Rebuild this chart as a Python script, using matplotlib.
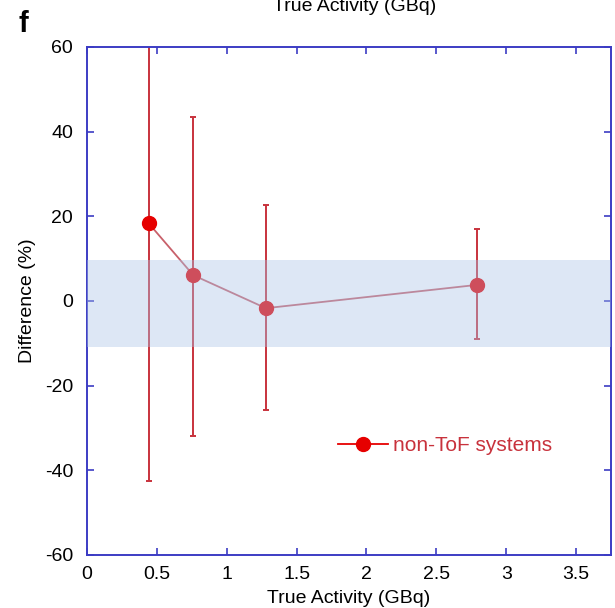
import matplotlib
matplotlib.use("Agg")
from matplotlib import pyplot as plt

# data
activity = [0.44, 0.76, 1.28, 2.79]
difference = [18.4, 6.1, -1.7, 3.8]
err_top = [66.0, 43.5, 22.7, 17.0]
err_bottom = [-42.5, -32.0, -25.8, -9.0]
band_low, band_high = -10.8, 9.7
xticks = [0, 0.5, 1, 1.5, 2, 2.5, 3, 3.5]
xticklabels = ["0", "0.5", "1", "1.5", "2", "2.5", "3", "3.5"]
yticks = [-60, -40, -20, 0, 20, 40, 60]

plt.rcParams['font.family'] = ['Liberation Sans', 'DejaVu Sans']
plt.rcParams['axes.unicode_minus'] = False

blue = "#3c3cc4"
red = "#c8323c"

fig = plt.figure(figsize=(6.15, 6.08), dpi=100)
ax = fig.add_axes([0.1415, 0.0872, 0.852, 0.8355])

yerr = [[d - b for d, b in zip(difference, err_bottom)],
        [t - d for d, t in zip(difference, err_top)]]
ax.errorbar(activity, difference, yerr=yerr, fmt="none", ecolor=red,
            elinewidth=1.4, capsize=2.5, capthick=1.4, zorder=2)
ax.plot(activity, difference, color="#c8606a", lw=1.3, zorder=3)
ax.plot(activity, difference, "o", color="#e60000", ms=10, zorder=4)

# legend entry drawn with a proxy line
ax.plot([], [], "-o", color="#e60000", ms=10, lw=1.3, label="non-ToF systems")
ax.legend(loc="center left", bbox_to_anchor=(0.479, 0.215), frameon=False,
          fontsize=15, labelcolor=red, handlelength=2.4, handletextpad=0.25,
          borderpad=0, borderaxespad=0)

# tolerance band drawn on top, semi-transparent
ax.axhspan(band_low, band_high, color=(170/255, 197/255, 232/255), alpha=0.4,
           lw=0, zorder=5)

ax.set_xlim(0, 3.75)
ax.set_ylim(-60, 60)
ax.set_xticks(xticks)
ax.set_xticklabels(xticklabels)
ax.set_yticks(yticks)
ax.tick_params(direction="in", length=5, width=1.2, color=blue, labelsize=14,
               top=True, right=True)
ax.tick_params(axis="x", pad=8)
ax.tick_params(axis="y", pad=10)
for s in ax.spines.values():
    s.set_color(blue)
    s.set_linewidth(1.4)

ax.set_xlabel("True Activity (GBq)", fontsize=14, labelpad=5)
ax.set_ylabel("Difference (%)", fontsize=14, labelpad=6)

# cropped title of the panel above, and panel letter
fig.text(355 / 615, 1 - 11 / 608, "True Activity (GBq)", fontsize=14,
         ha="center", va="baseline")
fig.text(23 / 615, 1 - 24 / 608, "f", fontsize=21, fontweight="bold",
         ha="center", va="center")

fig.savefig("out.png", dpi=100)
